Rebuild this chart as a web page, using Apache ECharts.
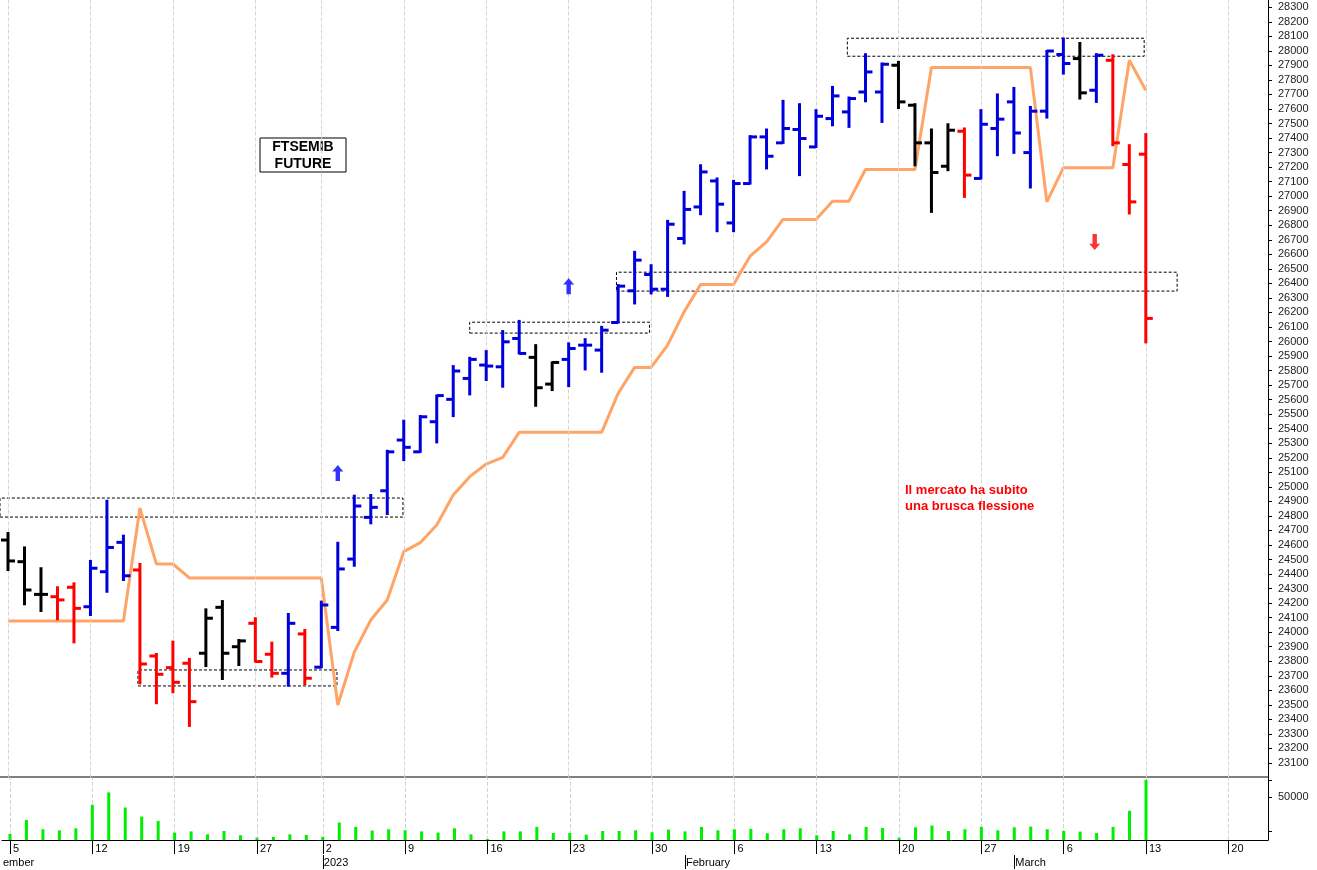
<!DOCTYPE html>
<html><head><meta charset="utf-8">
<script src="https://cdn.jsdelivr.net/npm/echarts@6/dist/echarts.min.js"></script>
<style>html,body{margin:0;padding:0;background:#fff}#c{width:1317px;height:870px}</style>
</head><body><div id="c"></div>
<script>
// ---- data ----
const barColors = ['k','k','k','r','r','b','b','b','r','r','r','r','k','k','k','r','r','b','r','b',
 'b','b','b','b','b','b','b','b','b','b','b','b','k','k','b','b','b','b','b','b',
 'b','b','b','b','b','b','b','b','b','b','b','b','b','b','k','k','k','k','r','b',
 'b','b','b','b','b','k','b','r','r','r'];
const opens = [24634,24485,24260,24244,24309,24175,24416,24618,24428,23836,23756,23786,23855,24171,23900,24061,23848,23717,23988,23759,
 24033,24503,24790,24973,25322,25241,25448,25602,25746,25838,25826,26021,25891,25707,25877,25975,25941,26131,26349,26461,
 26360,26709,26926,27105,26816,27087,27408,27367,27459,27339,27534,27580,27717,27717,27901,27626,27367,27206,27447,27122,
 27466,27649,27300,27585,27975,27947,27729,27935,27218,27289];
const highs = [24682,24583,24440,24309,24336,24490,24904,24664,24469,23850,23935,23816,24157,24214,23946,24096,23928,24125,24015,24210,
 24615,24939,24944,25248,25455,25487,25628,25831,25888,25934,26072,26142,25975,25856,25987,26016,26101,26388,26617,26525,
 26830,27030,27213,27122,27105,27413,27459,27656,27633,27592,27752,27679,27977,27913,27924,27633,27459,27495,27466,27592,
 27700,27745,27614,27999,28085,28054,27977,27970,27351,27427];
const lows = [24428,24192,24146,24089,23930,24118,24278,24359,23648,23511,23587,23355,23767,23678,23774,23798,23694,23632,23642,23759,
 24015,24457,24749,24813,25184,25241,25306,25487,25636,25735,25689,25918,25558,25666,25693,25808,25792,26131,26262,26331,
 26314,26675,26876,26759,26759,27087,27191,27367,27145,27339,27488,27477,27653,27511,27607,27213,26892,27179,26995,27122,
 27282,27298,27060,27541,27844,27672,27649,27351,26881,25994];
const closes = [24490,24290,24260,24222,24164,24440,24583,24388,23781,23710,23655,23522,24096,23855,23940,23798,23717,24061,23683,24187,
 24435,24868,24859,25241,25272,25482,25628,25797,25877,25831,25998,25918,25682,25856,25952,25975,26078,26381,26560,26360,
 26807,26909,27167,26945,27087,27408,27275,27466,27397,27550,27690,27672,27855,27908,27649,27367,27163,27454,27145,27495,
 27530,27435,27585,27999,27913,27711,27970,27367,26961,26159];
const stopLine = [24077,24077,24077,24077,24077,24077,24077,24077,24854,24469,24469,24373,24373,24373,24373,24373,24373,24373,24373,24373,
 23499,23863,24084,24221,24554,24616,24737,24944,25070,25157,25203,25375,25375,25375,25375,25375,25375,25643,25822,25822,
 25975,26204,26393,26393,26393,26587,26686,26840,26840,26840,26966,26966,27184,27184,27184,27184,27885,27885,27885,27885,
 27885,27885,27885,26961,27195,27195,27195,27195,27935,27729];
const volumes = [7000,23400,12500,11300,13600,41000,55400,37800,27300,22200,8600,10000,6600,10500,5500,2700,3500,6600,5800,3500,
 20300,15200,11000,12500,11300,10000,8600,13600,6600,1200,10000,10000,15200,8200,8200,6200,10500,10500,11300,9000,
 12100,10000,15200,11300,12500,12900,7800,12500,13600,5500,10500,6600,15200,14000,2700,14800,16800,10500,12500,15200,
 11300,14800,15600,12500,10500,9800,8200,15200,34000,70000];
const weekIdx = [0,5,10,15,19,24,29,34,39,44,49,54,59,64,69,74];
const weekLabels = ['5','12','19','27','2','9','16','23','30','6','13','20','27','6','13','20'];
const monthIdx = [19,41,61];
const monthLabels = ['2023','February','March'];
const boxes = [[-0.485,24792,23.95,24923],[7.88,23630,19.95,23740],[28.0,26058,38.9,26133],[36.9,26347,70.9,26477],[50.9,27963,68.9,28087]];
const upArrows = [[20,25095],[34,26381]];
const downArrows = [[65.9,26684]];

const XMIN=-0.485, XMAX=76.41;
const COL={b:'#0000dd',k:'#000000',r:'#ff0000'};
const ohlc = opens.map((o,i)=>[i,o,highs[i],lows[i],closes[i]]);
const wkMap={}; weekIdx.forEach((v,i)=>wkMap[v]=weekLabels[i]);
const mMap={}; monthIdx.forEach((v,i)=>mMap[v]=monthLabels[i]); mMap[XMIN]='ember';
const vgrid = {silent:true,symbol:'none',label:{show:false},lineStyle:{color:'#d4d4d4',type:'dashed',width:1},data:weekIdx.map(v=>({xAxis:v}))};
const F='Liberation Sans';

const chart=echarts.init(document.getElementById('c'));
chart.setOption({
 animation:false,
 grid:[{left:0,top:0,width:1268,height:777.5},{left:0,top:777.5,width:1268,height:62.5}],
 xAxis:[
  {gridIndex:0,type:'value',min:XMIN,max:XMAX,axisLine:{show:false},axisTick:{show:false},axisLabel:{show:false},splitLine:{show:false}},
  {gridIndex:1,type:'value',min:XMIN,max:XMAX,position:'bottom',axisLine:{show:true,onZero:false,lineStyle:{color:'#000',width:1}},
   axisTick:{show:true,customValues:weekIdx,length:14,lineStyle:{color:'#000'}},
   axisLabel:{customValues:weekIdx,formatter:v=>wkMap[v]||'',align:'left',margin:3,padding:[0,0,0,3],fontFamily:F,fontSize:11,color:'#000'},
   splitLine:{show:false}},
  {gridIndex:1,type:'value',min:XMIN,max:XMAX,position:'bottom',offset:15,axisLine:{show:false,onZero:false},
   axisTick:{show:true,customValues:monthIdx,length:14,lineStyle:{color:'#000'}},
   axisLabel:{customValues:[XMIN].concat(monthIdx),formatter:v=>mMap[v]||'',align:'left',margin:2,padding:[0,0,0,1],fontFamily:F,fontSize:11,color:'#000'},
   splitLine:{show:false}}
 ],
 yAxis:[
  {gridIndex:0,type:'value',position:'right',min:23000,max:28350,interval:100,
   axisLine:{show:true,onZero:false,lineStyle:{color:'#000'}},axisTick:{show:true,length:4,lineStyle:{color:'#000'}},
   axisLabel:{showMinLabel:false,showMaxLabel:false,formatter:v=>String(v),fontFamily:F,fontSize:11,color:'#222',margin:10},splitLine:{show:false}},
  {gridIndex:1,type:'value',position:'right',min:0,max:72700,
   axisLine:{show:true,onZero:false,lineStyle:{color:'#000'}},axisTick:{show:true,length:4,customValues:[10000,50000,70000],lineStyle:{color:'#000'}},
   axisLabel:{customValues:[50000],formatter:v=>String(v),fontFamily:F,fontSize:11,color:'#222',margin:10},splitLine:{show:false}}
 ],
 series:[
  {type:'line',xAxisIndex:0,yAxisIndex:0,data:[],z:0,markLine:vgrid},
  {type:'line',xAxisIndex:1,yAxisIndex:1,data:[],z:0,markLine:vgrid},
  {type:'line',xAxisIndex:0,yAxisIndex:0,data:stopLine.map((v,i)=>[i,v]),symbol:'none',lineStyle:{color:'#ffa466',width:3},z:2,
   markArea:{silent:true,itemStyle:{color:'rgba(0,0,0,0)',borderColor:'#000',borderWidth:1,borderType:[3,2]},
     data:boxes.map(b=>[{coord:[b[0],b[1]]},{coord:[b[2],b[3]]}])}},
  {type:'custom',xAxisIndex:0,yAxisIndex:0,data:ohlc,encode:{x:0,y:[1,2,3,4]},z:5,
   renderItem:function(params,api){
     const x=api.value(0);
     const h=api.coord([x,api.value(2)]), l=api.coord([x,api.value(3)]);
     const o=api.coord([x,api.value(1)]), c=api.coord([x,api.value(4)]);
     const st={stroke:COL[barColors[params.dataIndex]],lineWidth:3};
     return {type:'group',children:[
       {type:'line',shape:{x1:h[0],y1:h[1]-1,x2:l[0],y2:l[1]+1},style:st},
       {type:'line',shape:{x1:o[0]-7,y1:o[1],x2:o[0],y2:o[1]},style:st},
       {type:'line',shape:{x1:c[0],y1:c[1],x2:c[0]+7,y2:c[1]},style:st}]};
   }},
  {type:'scatter',xAxisIndex:0,yAxisIndex:0,data:upArrows,symbol:'path://M5,0 L10,6 L7,6 L7,15 L3,15 L3,6 L0,6 Z',symbolSize:[11,16],itemStyle:{color:'#0000ff'},z:6},
  {type:'scatter',xAxisIndex:0,yAxisIndex:0,data:downArrows,symbol:'path://M3,0 L7,0 L7,9 L10,9 L5,15 L0,9 L3,9 Z',symbolSize:[11,16],itemStyle:{color:'#ff0000'},z:6},
  {type:'bar',xAxisIndex:1,yAxisIndex:1,data:volumes.map((v,i)=>[i,v]),barWidth:3,itemStyle:{color:'#00ee00'},z:5}
 ],
 graphic:[
  {type:'line',shape:{x1:0,y1:777,x2:1268,y2:777},style:{stroke:'#000',lineWidth:1}},
  {type:'rect',shape:{x:260,y:138,width:86,height:34},style:{fill:'#fff',stroke:'#000',lineWidth:1}},
  {type:'text',x:303,y:147,style:{text:'FTSEMIB',font:'bold 14px "Liberation Sans"',fill:'#000',align:'center',verticalAlign:'middle'}},
  {type:'text',x:303,y:164,style:{text:'FUTURE',font:'bold 14px "Liberation Sans"',fill:'#000',align:'center',verticalAlign:'middle'}},
  {type:'text',x:905,y:490,style:{text:'Il mercato ha subito',font:'bold 13px "Liberation Sans"',fill:'#ff0000',verticalAlign:'middle'}},
  {type:'text',x:905,y:506,style:{text:'una brusca flessione',font:'bold 13px "Liberation Sans"',fill:'#ff0000',verticalAlign:'middle'}}
 ]
});
</script></body></html>
